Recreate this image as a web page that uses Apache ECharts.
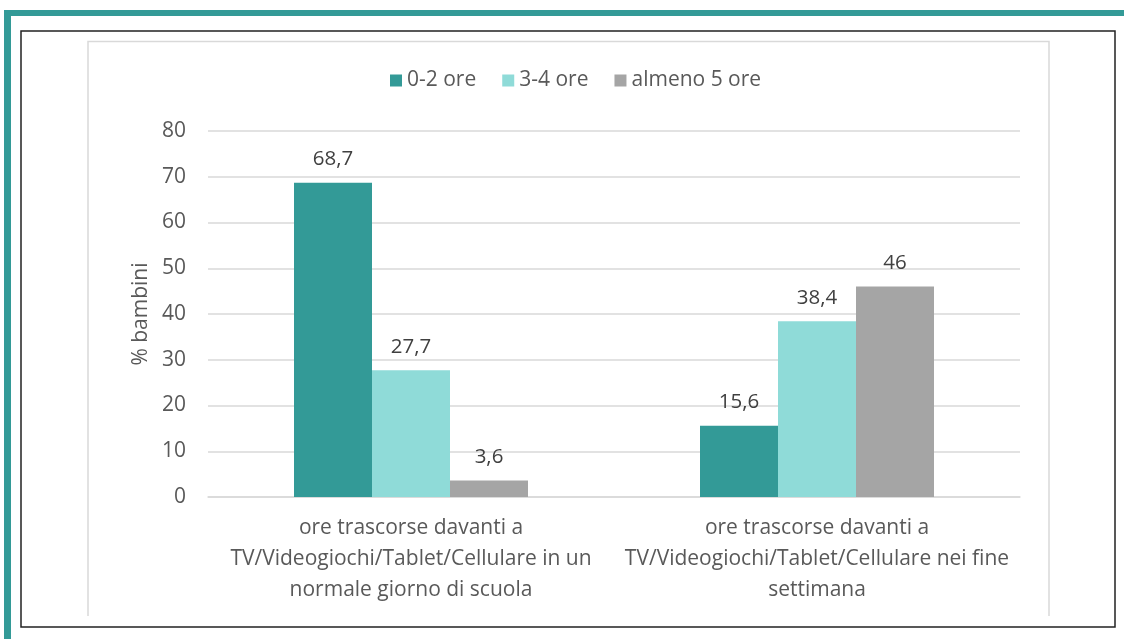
<!DOCTYPE html>
<html>
<head>
<meta charset="utf-8">
<script src="https://cdn.jsdelivr.net/npm/echarts@6/dist/echarts.min.js"></script>
<style>
  html, body { margin: 0; padding: 0; background: #fff; }
  #main { width: 1124px; height: 639px; }
</style>
</head>
<body>
<div id="main"></div>
<script>
// dati
var categorie = [
  'ore trascorse davanti a\nTV/Videogiochi/Tablet/Cellulare in un\nnormale giorno di scuola',
  'ore trascorse davanti a\nTV/Videogiochi/Tablet/Cellulare nei fine\nsettimana'
]
var ore02 = [68.7, 15.6]
var ore34 = [27.7, 38.4]
var almeno5 = [3.6, 46]
var nomiSerie = ['0-2 ore', '3-4 ore', 'almeno 5 ore']
var colori = ['#339A97', '#8FDBD8', '#A5A5A5']

var font = '"Open Sans", "Noto Sans", sans-serif'

var myChart = echarts.init(document.getElementById('main'))

function serie (nome, dati, colore) {
  return {
    name: nome,
    type: 'bar',
    data: dati,
    barWidth: 78,
    barGap: '0%',
    itemStyle: { color: colore },
    label: {
      show: true,
      position: 'top',
      distance: 13,
      color: '#404040',
      fontSize: 20.5,
      fontFamily: font,
      formatter: function (p) {
        return String(p.value).replace('.', ',')
      }
    }
  }
}

var option = {
  animation: false,
  textStyle: { fontFamily: font },
  graphic: [
    // cornice verde acqua
    { type: 'rect', shape: { x: 4, y: 10, width: 1120, height: 6 }, style: { fill: '#339A97' } },
    { type: 'rect', shape: { x: 4, y: 10, width: 7, height: 629 }, style: { fill: '#339A97' } },
    // riquadro nero
    { type: 'rect', shape: { x: 21, y: 31, width: 1094, height: 596 }, style: { fill: 'none', stroke: '#222', lineWidth: 1.5 } },
    // bordo grigio dell'area grafico
    { type: 'polyline', shape: { points: [[88, 616], [88, 41.5], [1049, 41.5], [1049, 616]] }, style: { fill: 'none', stroke: '#D9D9D9', lineWidth: 1.5 } }
  ],
  legend: {
    data: nomiSerie,
    left: 385,
    top: 65,
    itemWidth: 12,
    itemHeight: 12,
    itemGap: 26,
    icon: 'rect',
    textStyle: { color: '#595959', fontSize: 21, fontFamily: font }
  },
  grid: {
    left: 208,
    right: 104,
    top: 131,
    bottom: 142
  },
  xAxis: {
    type: 'category',
    data: categorie,
    axisLine: { lineStyle: { color: '#D9D9D9', width: 1.5 } },
    axisTick: { show: false },
    axisLabel: {
      color: '#595959',
      fontSize: 21,
      lineHeight: 31,
      margin: 16,
      interval: 0,
      fontFamily: font
    }
  },
  yAxis: {
    type: 'value',
    min: 0,
    max: 80,
    interval: 10,
    name: '% bambini',
    nameLocation: 'middle',
    nameGap: 56,
    nameTextStyle: { color: '#595959', fontSize: 21, fontFamily: font },
    axisLine: { show: false },
    axisTick: { show: false },
    axisLabel: { color: '#595959', fontSize: 21, margin: 22, fontFamily: font },
    splitLine: { lineStyle: { color: '#D9D9D9', width: 1.5 } }
  },
  series: [
    serie(nomiSerie[0], ore02, colori[0]),
    serie(nomiSerie[1], ore34, colori[1]),
    serie(nomiSerie[2], almeno5, colori[2])
  ]
}

myChart.setOption(option)
</script>
</body>
</html>
